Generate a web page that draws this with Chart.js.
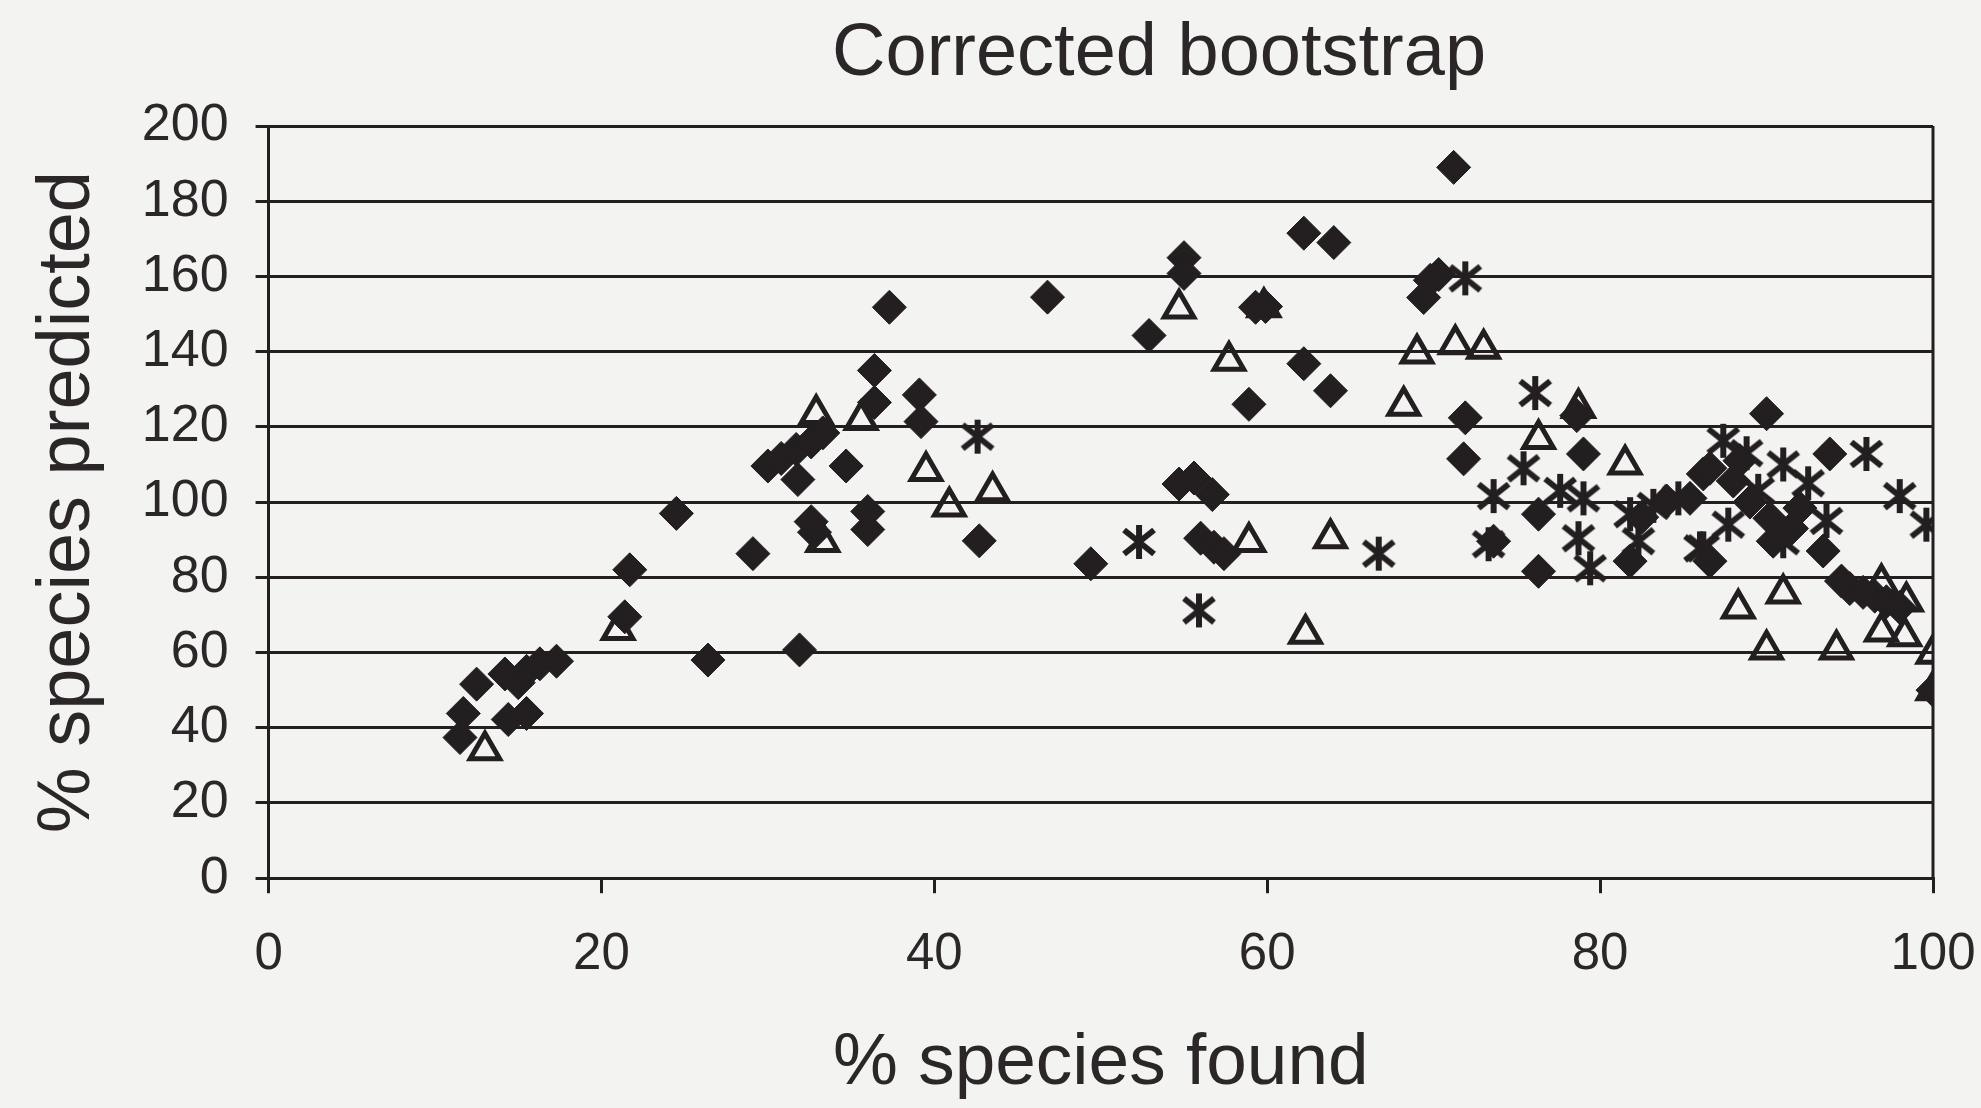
<!DOCTYPE html>
<html>
<head>
<meta charset="utf-8">
<script src="https://cdn.jsdelivr.net/npm/chart.js@4.4.1/dist/chart.umd.min.js"></script>
<style>
  html, body { margin: 0; padding: 0; background: #f3f3f1; }
  #wrap { width: 1981px; height: 1108px; position: relative; }
</style>
</head>
<body>
<div id="wrap"><canvas id="chart"></canvas></div>
<script>
// values (x = % species found, y = % species predicted)
const diamondX = [11.5, 11.7, 12.5, 14.2, 14.4, 15.0, 15.5, 15.5, 16.3, 17.3,
  21.4, 21.7, 24.5, 26.4, 29.1, 30.0, 30.8, 31.7, 32.6, 33.3,
  31.8, 32.6, 32.8, 31.9, 34.7, 36.0, 36.0, 36.4, 36.4, 37.3,
  39.1, 39.2, 42.7, 46.8, 49.4, 52.9, 55.0, 55.0, 54.7, 55.6,
  56.7, 56.0, 56.8, 57.4, 58.9, 59.3, 59.9, 62.2, 64.0, 62.2,
  63.8, 69.4, 69.8, 70.3, 71.2, 71.9, 71.8, 73.6, 76.3, 76.3,
  78.6, 79.0, 81.8, 84.0, 86.2, 86.6, 88.4, 88.0, 85.4, 86.6,
  90.0, 90.2, 92.0, 90.4, 93.4, 93.8, 94.5, 95.0, 95.8, 96.5,
  97.2, 98.0, 100, 82.5, 89.0, 91.5];
const diamondY = [37.4, 43.8, 51.6, 54.3, 42.2, 52, 43.8, 55, 57, 57.7,
  69.5, 82, 97, 58, 86.3, 109.6, 111.6, 114, 116, 118.4,
  106, 94.8, 92, 60.7, 109.6, 97.5, 92.7, 135, 126.5, 151.8,
  128.5, 121.4, 89.7, 154.5, 83.6, 144.3, 165, 160.8, 104.8, 106.4,
  102, 90.4, 88, 86.3, 126, 151.8, 152, 171.5, 169, 136.8,
  129.6, 154.4, 159, 160.5, 189, 122.4, 111.5, 89.6, 96.8, 81.6,
  123, 112.8, 84.3, 100.3, 107.5, 109, 111, 105.6, 101, 84.3,
  123.5, 95.7, 98.4, 89.6, 87, 112.8, 79, 77, 76, 75,
  73.5, 72, 50, 96, 100, 93];

const triangleX = [13, 21, 32.9, 33.3, 35.6, 39.5, 40.9, 43.5, 54.7, 57.7,
  58.9, 59.8, 62.3, 63.8, 68.2, 69.0, 71.3, 73.0, 76.3, 78.7,
  81.5, 88.3, 91.0, 90.0, 94.2, 96.9, 98.4, 96.9, 98.3, 100, 100];
const triangleY = [34, 66, 123.4, 89.4, 121.8, 108.3, 98.8, 102.9, 151.5, 137.6,
  89.4, 151.8, 65, 90.4, 125.6, 139.5, 142, 140.8, 116.8, 125,
  110, 71.7, 75.7, 60.8, 60.8, 78.4, 73.6, 65.6, 64.3, 59.7, 50];

const starX = [42.6, 52.3, 55.9, 66.7, 71.9, 76.1, 73.6, 73.3, 75.4, 77.6,
  79.0, 78.7, 79.4, 81.8, 82.3, 84.7, 86.0, 87.4, 87.7, 86.2,
  91.0, 91.0, 93.6, 88.8, 89.5, 92.5, 96.0, 98.0, 99.6, 83.2];
const starY = [117.4, 89.4, 71.2, 86.3, 159.5, 129, 101.6, 88.8, 109, 103,
  101, 90.4, 82.4, 96.8, 89.6, 101, 87.7, 116.3, 94, 87.7,
  110, 89.6, 95, 113, 103, 105, 112.8, 101.6, 94, 99];

const xTicks = [0, 20, 40, 60, 80, 100];
const yTicks = [0, 20, 40, 60, 80, 100, 120, 140, 160, 180, 200];
const chartTitle = 'Corrected bootstrap';

const ink = '#231f20';
const textInk = '#2b2728';
const font = "'Liberation Sans', Arial, sans-serif";

function pairs(xs, ys) {
  return xs.map((x, i) => ({ x: x, y: ys[i] }));
}

// Excel style star marker: an x with a vertical bar
function starMarker() {
  const c = document.createElement('canvas');
  c.width = 40; c.height = 40;
  const g = c.getContext('2d');
  g.strokeStyle = ink;
  g.lineWidth = 6;
  g.lineCap = 'butt';
  g.beginPath();
  g.moveTo(20, 3); g.lineTo(20, 37);
  g.moveTo(5, 8); g.lineTo(35, 32);
  g.moveTo(5, 32); g.lineTo(35, 8);
  g.stroke();
  return c;
}

const frame = {
  id: 'frame',
  beforeDraw(chart) {
    const ctx = chart.ctx;
    ctx.save();
    ctx.fillStyle = '#f3f3f1';
    ctx.fillRect(0, 0, chart.width, chart.height);
    ctx.restore();
  },
  afterDraw(chart) {
    const a = chart.chartArea;
    const ctx = chart.ctx;
    ctx.save();
    // right edge of the plot box
    ctx.strokeStyle = ink;
    ctx.lineWidth = 3;
    ctx.beginPath();
    ctx.moveTo(a.right, a.top);
    ctx.lineTo(a.right, a.bottom);
    ctx.stroke();
    // chart title, sitting right of centre like in the original
    ctx.fillStyle = textInk;
    ctx.font = '74px ' + font;
    ctx.textAlign = 'center';
    ctx.textBaseline = 'middle';
    ctx.fillText(chartTitle, a.left + (a.right - a.left) * 0.535, 55);
    ctx.restore();
  }
};

new Chart(document.getElementById('chart'), {
  type: 'scatter',
  data: {
    datasets: [
      {
        label: 'diamonds',
        data: pairs(diamondX, diamondY),
        pointStyle: 'rectRot',
        pointRadius: 17,
        backgroundColor: ink,
        borderColor: ink,
        borderWidth: 1
      },
      {
        label: 'triangles',
        data: pairs(triangleX, triangleY),
        pointStyle: 'triangle',
        pointRadius: 17,
        backgroundColor: 'rgba(0,0,0,0)',
        borderColor: ink,
        borderWidth: 5
      },
      {
        label: 'stars',
        data: pairs(starX, starY),
        pointStyle: starMarker(),
        pointRadius: 20,
        backgroundColor: ink,
        borderColor: ink
      }
    ]
  },
  options: {
    responsive: true,
    maintainAspectRatio: false,
    animation: false,
    layout: { autoPadding: false, padding: { left: 24, right: 48, top: 126, bottom: 0 } },
    plugins: {
      legend: { display: false },
      tooltip: { enabled: false },
      title: { display: false }
    },
    scales: {
      x: {
        type: 'linear',
        min: 0,
        max: 100,
        afterBuildTicks: (axis) => { axis.ticks = xTicks.map(v => ({ value: v })); },
        // the end labels may hang past the plot box, as in the original
        afterFit: (axis) => { axis.paddingLeft = 0; axis.paddingRight = 0; },
        grid: { drawOnChartArea: false, drawTicks: true, tickLength: 15, color: ink, lineWidth: 3 },
        border: { display: true, color: ink, width: 3 },
        ticks: { color: textInk, font: { family: font, size: 51 }, padding: 31, maxRotation: 0 },
        title: {
          display: true,
          text: '% species found',
          color: textInk,
          font: { family: font, size: 73 },
          padding: { top: 4, bottom: 0 }
        }
      },
      y: {
        type: 'linear',
        min: 0,
        max: 200,
        afterBuildTicks: (axis) => { axis.ticks = yTicks.map(v => ({ value: v })); },
        grid: { drawTicks: true, tickLength: 13, color: ink, lineWidth: 3 },
        border: { display: true, color: ink, width: 3 },
        ticks: { color: textInk, font: { family: font, size: 52 }, padding: 27 },
        title: {
          display: true,
          text: '% species predicted',
          color: textInk,
          font: { family: font, size: 74 },
          padding: { top: 0, bottom: 2 }
        }
      }
    }
  },
  plugins: [frame]
});
</script>
</body>
</html>
